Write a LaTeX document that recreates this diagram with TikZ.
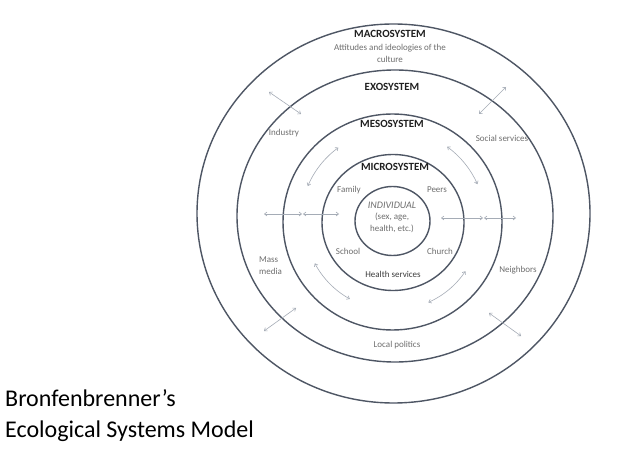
\documentclass[tikz,border=0pt]{standalone}
\usepackage{fontspec}
\setmainfont{Carlito}
\usetikzlibrary{arrows.meta}
\definecolor{ring}{RGB}{78,86,100}
\definecolor{lbl}{RGB}{110,110,110}
\definecolor{dlbl}{RGB}{60,60,60}
\definecolor{arr}{RGB}{165,172,182}
\begin{document}
\begin{tikzpicture}[x=1pt,y=-1pt,
  ringline/.style={draw=ring, line width=1.4pt},
  sysname/.style={inner sep=0pt, font=\bfseries\fontsize{11}{12}\selectfont, text=black!88},
  lab/.style={inner sep=0pt, font=\fontsize{9}{12}\selectfont, text=lbl},
  link/.style={draw=arr, line width=0.6pt, {Straight Barb[length=2.5pt,width=4pt]}-{Straight Barb[length=2.5pt,width=4pt]}},
  title/.style={inner sep=0pt, anchor=west, font=\fontsize{24}{27}\selectfont, text=black}]
\useasboundingbox (0,0) rectangle (640,454);
\fill[white] (0,0) rectangle (640,454);
% centres of the rings
\coordinate (cmacro) at (393.5,213.5);
\coordinate (cexo) at (395,216);
\coordinate (cmeso) at (392.5,222);
\coordinate (cmicro) at (393,222.5);
\coordinate (cind) at (392.5,221);
\draw[ringline] (cmacro) ellipse [x radius=196.5, y radius=189.5];
\draw[ringline] (cexo) ellipse [x radius=158, y radius=146];
\draw[ringline] (cmeso) ellipse [x radius=109.5, y radius=108];
\draw[ringline] (cmicro) ellipse [x radius=71, y radius=68];
\draw[ringline] (cind) ellipse [x radius=37.5, y radius=34.5];
% straight links
\coordinate (tlA) at (269,92);  \coordinate (tlB) at (301,114);
\coordinate (trA) at (506,87);  \coordinate (trB) at (479,114);
\coordinate (blA) at (264,331); \coordinate (blB) at (296,308);
\coordinate (brA) at (489,313); \coordinate (brB) at (521,336);
\coordinate (hlA) at (264,214); \coordinate (hlB) at (302,214);
\coordinate (hlC) at (303,214); \coordinate (hlD) at (339,214);
\coordinate (hrA) at (441,218); \coordinate (hrB) at (483,218);
\coordinate (hrC) at (484,218); \coordinate (hrD) at (516,218);
\draw[link] (tlA) -- (tlB);
\draw[link] (trA) -- (trB);
\draw[link] (blA) -- (blB);
\draw[link] (brA) -- (brB);
\draw[link] (hlA) -- (hlB);
\draw[link] (hlC) -- (hlD);
\draw[link] (hrA) -- (hrB);
\draw[link] (hrC) -- (hrD);
% curved links in the mesosystem ring
\draw[link] ([shift={(-157:92)}]cmeso) arc[start angle=-157, end angle=-126, radius=92];
\draw[link] ([shift={(-54:93)}]cmeso) arc[start angle=-54, end angle=-24, radius=93];
\draw[link] ([shift={(152:88)}]cmeso) arc[start angle=152, end angle=119, radius=88];
\draw[link] ([shift={(34:88)}]cmeso) arc[start angle=34, end angle=66, radius=88];
% labels
\node[sysname] (macro) at (390,34) {MACROSYSTEM};
\node[lab, align=center] (att) at (390,53) {Attitudes and ideologies of the\\culture};
\node[sysname] (exo) at (392,87) {EXOSYSTEM};
\node[sysname] (meso) at (392,124) {MESOSYSTEM};
\node[sysname] (micro) at (395,167) {MICROSYSTEM};
\node[lab] (family) at (349,190) {Family};
\node[lab] (peers) at (437,190) {Peers};
\node[lab, font=\itshape\fontsize{10}{12}\selectfont] (ind) at (392,205) {INDIVIDUAL};
\node[lab, align=center] (indsub) at (392,222.5) {(sex, age,\\health, etc.)};
\node[lab] (school) at (348,251) {School};
\node[lab] (church) at (440,251) {Church};
\node[lab, text=dlbl] (health) at (393,274) {Health services};
\node[lab, align=left, anchor=west] (mass) at (259,266) {Mass\\media};
\node[lab] (neigh) at (518,270) {Neighbors};
\node[lab] (local) at (397,345) {Local politics};
\node[lab] (industry) at (284,133) {Industry};
\node[lab] (social) at (502,138) {Social services};
\node[title] (t1) at (5,398) {Bronfenbrenner’s};
\node[title] (t2) at (5,431) {Ecological Systems Model};
\end{tikzpicture}
\end{document}
